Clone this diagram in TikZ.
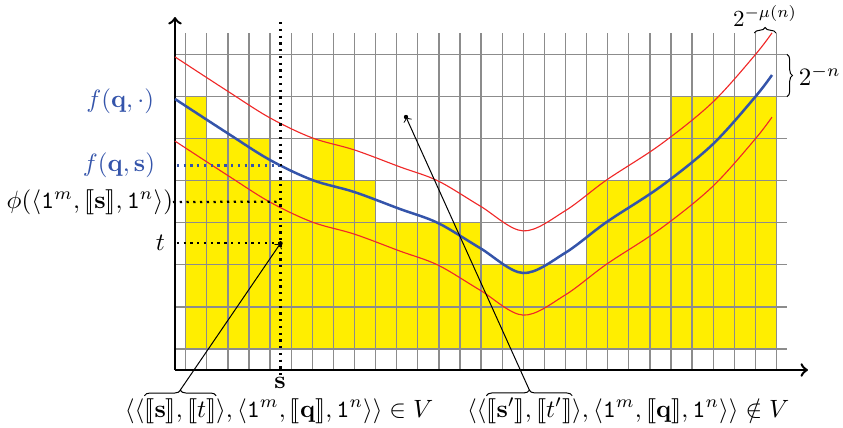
\documentclass[tikz,border=0pt]{standalone}
\usepackage{stmaryrd}
\usetikzlibrary{decorations.pathreplacing,calc}
\newcommand{\llb}{\llbracket}
\newcommand{\rrb}{\rrbracket}
\definecolor{fblue}{RGB}{52,84,170}
\definecolor{fred}{RGB}{240,40,40}
\definecolor{bary}{RGB}{255,238,0}
\definecolor{gridc}{RGB}{140,140,140}
\newcommand{\fcurve}[1]{\draw[#1] plot[smooth,tension=0.55] coordinates {(175,99) (227.7,133.3) (270,160) (312.3,180) (354.3,192) (400,209) (438,223) (480,248) (523,273) (565,253) (606.7,222) (660,187) (712,145) (754.3,98) (772,75)};}
\begin{document}
\begin{tikzpicture}[x=0.4pt,y=-0.4pt,
  gridline/.style={draw=gridc,line width=0.55pt},
  axisline/.style={draw=black,line width=1pt,->},
  dotline/.style={line width=0.9pt,dash pattern=on 0.9pt off 1.8pt},
  conn/.style={draw=black,line width=0.4pt,->},
  fml/.style={inner sep=0pt,outer sep=0pt},
  lbl/.style={inner sep=0pt,outer sep=0pt},
  brc/.style={decorate,decoration={brace,amplitude=2.2pt},line width=0.4pt},
  ptdot/.style={fill=black}]
\useasboundingbox (0,0) rectangle (843,428);
% yellow bars
\foreach \a/\b/\j in {0/0/1,1/3/2,4/5/3,6/7/2,8/8/3,9/13/4,14/18/5,19/22/3,23/27/1}
  \fill[bary] ({185.7+21.1*\a},349) rectangle ({185.7+21.1*(\b+1)},{54.3+42.1*\j});
% grid
\foreach \k in {0,...,28}
  \draw[gridline] ({185.7+21.1*\k},33) -- ({185.7+21.1*\k},370);
\foreach \j in {0,...,7}
  \draw[gridline] (175,{54.3+42.1*\j}) -- (787,{54.3+42.1*\j});
% axes
\coordinate (O) at (175,370);
\coordinate (xend) at (808,370);
\coordinate (yend) at (175,17);
\draw[axisline] (O) -- (xend);
\draw[axisline] (O) -- (yend);
% curves
\fcurve{fred,line width=0.45pt,shift={(0,-42.1)}}
\fcurve{fred,line width=0.45pt,shift={(0,42.1)}}
\fcurve{fblue,line width=1pt}
% dotted lines
\coordinate (stop) at (280.5,22);
\coordinate (sbot) at (280.5,377);
\draw[dotline] (stop) -- (sbot);
\coordinate (fqs) at (280.5,165.5);
\coordinate (phis) at (280.5,201.7);
\coordinate (pst) at (280.5,243.3);
\coordinate (pst2) at (406,117);
\node[lbl,anchor=east,text=fblue] (lfq) at (154,101) {$f(\mathbf{q},\cdot)$};
\node[lbl,anchor=east,text=fblue] (lfqs) at (155,165) {$f(\mathbf{q},\mathbf{s})$};
\node[lbl,anchor=east] (lphi) at (173,202) {$\phi(\langle\mathtt{1}^m,\llb\mathbf{s}\rrb,\mathtt{1}^n\rangle)$};
\node[lbl,anchor=east] (lt) at (165,243) {$t$};
\draw[dotline,fblue] (177,165.5) -- (fqs);
\draw[dotline] (lphi.east) -- (phis);
\draw[dotline] (177,243.3) -- (pst);
\fill[ptdot] (pst) circle (2.2);
\fill[ptdot] (pst2) circle (2.2);
\node[lbl] (ls) at (280,383) {$\mathbf{s}$};
% braces top right
\draw[brc] (754.3,33) -- (776,33);
\node[lbl,anchor=south,scale=0.92] (lmu) at (765,26) {$2^{-\mu(n)}$};
\draw[brc] (787,54.3) -- (787,96.7);
\node[lbl,anchor=west] (ln) at (799,75.5) {$2^{-n}$};
% bottom formulas
\node[fml,anchor=base west] (f1a) at (125,417) {$\langle\langle$};
\node[fml,anchor=base west] (f1b) at (f1a.base east) {$\llb\mathbf{s}\rrb,\llb t\rrb$};
\node[fml,anchor=base west] (f1c) at (f1b.base east) {$\rangle,\langle\mathtt{1}^m,\llb\mathbf{q}\rrb,\mathtt{1}^n\rangle\rangle\in V$};
\node[fml,anchor=base west] (f2a) at (467,417) {$\langle\langle$};
\node[fml,anchor=base west] (f2b) at (f2a.base east) {$\llb\mathbf{s}'\rrb,\llb t'\rrb$};
\node[fml,anchor=base west] (f2c) at (f2b.base east) {$\rangle,\langle\mathtt{1}^m,\llb\mathbf{q}\rrb,\mathtt{1}^n\rangle\rangle\notin V$};
\draw[brc] ([yshift=1pt]f1b.north west) -- ([yshift=1pt]f1b.north east);
\draw[brc] ([yshift=1pt]f2b.north west) -- ([yshift=1pt]f2b.north east);
\coordinate (b1) at ([yshift=3.3pt]f1b.north);
\coordinate (b2) at ([yshift=3.3pt]f2b.north);
\draw[conn] (b1) -- (pst);
\draw[conn] (b2) -- (pst2);
\end{tikzpicture}
\end{document}
